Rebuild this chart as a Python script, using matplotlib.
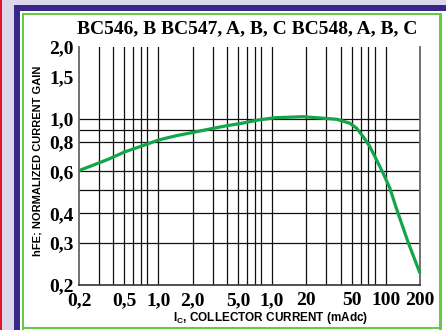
import matplotlib
matplotlib.use("Agg")
import matplotlib.pyplot as plt
from matplotlib.patches import Rectangle
from matplotlib.ticker import FixedLocator, NullLocator

# ---- data ----
ic_ma = [0.2, 0.258, 0.362, 0.508, 0.712, 1.0, 1.4, 1.96, 2.74, 3.85, 5.39, 7.55, 10.6,
         18.8, 37.0, 48.4, 55.4, 63.3, 72.5, 83.0, 94.9, 108.7, 123.5, 156.6, 200]
hfe = [0.605, 0.634, 0.675, 0.726, 0.767, 0.813, 0.846, 0.873, 0.902, 0.931, 0.956, 0.987, 1.009,
       1.019, 0.994, 0.956, 0.911, 0.840, 0.762, 0.670, 0.589, 0.510, 0.422, 0.304, 0.224]

x_tick_vals = [0.2, 0.5, 1, 2, 5, 10, 20, 50, 100, 200]
x_tick_labels = ["0,2", "0,5", "1,0", "2,0", "5,0", "1,0", "20", "50", "100", "200"]
y_tick_vals = [0.2, 0.3, 0.4, 0.6, 0.8, 1.0, 1.5, 2.0]
y_tick_labels = ["0,2", "0,3", "0,4", "0,6", "0,8", "1,0", "1,5", "2,0"]
x_grid = [0.3, 0.4, 0.5, 0.6, 0.7, 0.8, 1, 2, 3, 4, 5, 6, 7, 8, 10, 20, 30, 40, 50, 60, 70, 80, 100]
y_grid = [0.3, 0.4, 0.5, 0.6, 0.8, 0.9, 1.0]

title = "BC546, B BC547, A, B, C BC548, A, B, C"
ylabel = "hFE; NORMALIZED CURRENT GAIN"
xlabel = r"$\mathrm{I_C}$, COLLECTOR CURRENT (mAdc)"

plt.rcParams['mathtext.fontset'] = 'custom'
plt.rcParams['mathtext.rm'] = 'Liberation Sans:bold'
plt.rcParams['mathtext.it'] = 'Liberation Sans:bold'
plt.rcParams['mathtext.bf'] = 'Liberation Sans:bold'

W, H = 446, 330
fig = plt.figure(figsize=(W / 100, H / 100), dpi=100, facecolor="white")


def prect(x0, y0, x1, y1, color):
    fig.add_artist(Rectangle((x0 / W, 1 - y1 / H), (x1 - x0) / W, (y1 - y0) / H,
                             transform=fig.transFigure, facecolor=color,
                             edgecolor="none", zorder=0))


# frame decorations
lav = "#dcd8ea"
purple = "#37288a"
green_b = "#66c93e"
prect(0, 0, W, 5, lav)
prect(0, 0, 14, H, lav)
prect(0, 0, 2, H, "#e5122c")
prect(14, 5, W, 11, purple)
prect(14, 5, 20, H, purple)
prect(22, 13, 442, 15, green_b)
prect(22, 13, 24, H, green_b)
prect(439, 13, 442, H, green_b)
prect(22, 327, 442, 329, green_b)

ax = fig.add_axes([79 / W, 1 - 285 / H, 341 / W, 238 / H])
ax.set_facecolor("white")
ax.set_xscale("log")
ax.set_yscale("log")
ax.set_xlim(0.2, 200)
ax.set_ylim(0.2, 2.0)

ax.xaxis.set_major_locator(FixedLocator(x_tick_vals))
ax.set_xticklabels(x_tick_labels)
ax.yaxis.set_major_locator(FixedLocator(y_tick_vals))
ax.set_yticklabels(y_tick_labels)
ax.xaxis.set_minor_locator(NullLocator())
ax.yaxis.set_minor_locator(NullLocator())
ax.tick_params(which="both", length=0)
ax.tick_params(axis="x", pad=5)
ax.tick_params(axis="y", pad=4)

for xv in x_grid:
    ax.axvline(xv, color="#111111", linewidth=0.9, zorder=1)
for yv in y_grid:
    ax.axhline(yv, color="#111111", linewidth=0.9, zorder=1)

for lab in ax.get_xticklabels() + ax.get_yticklabels():
    lab.set_fontfamily("Liberation Serif")
    lab.set_fontweight("bold")
    lab.set_fontsize(14)

ax.spines["top"].set_visible(False)
for s in ["left", "right"]:
    ax.spines[s].set_color("#666666")
    ax.spines[s].set_linewidth(1.3)
ax.spines["bottom"].set_color("#333333")
ax.spines["bottom"].set_linewidth(1.2)

ax.plot(ic_ma, hfe, color="#12a54a", linewidth=2.3, solid_capstyle="butt",
        clip_on=False, zorder=5)

fig.text(247 / W, 1 - 29 / H, title, ha="center", va="center",
         fontfamily="Liberation Serif", fontweight="bold", fontsize=14)
fig.text(38 / W, 1 - 161 / H, ylabel, ha="center", va="center", rotation=90,
         fontfamily="Liberation Sans", fontweight="bold", fontsize=8)
fig.text(271 / W, 1 - 318 / H, xlabel, ha="center", va="center",
         fontfamily="Liberation Sans", fontweight="bold", fontsize=8.5)

fig.savefig("out.png", dpi=100, facecolor="white")
